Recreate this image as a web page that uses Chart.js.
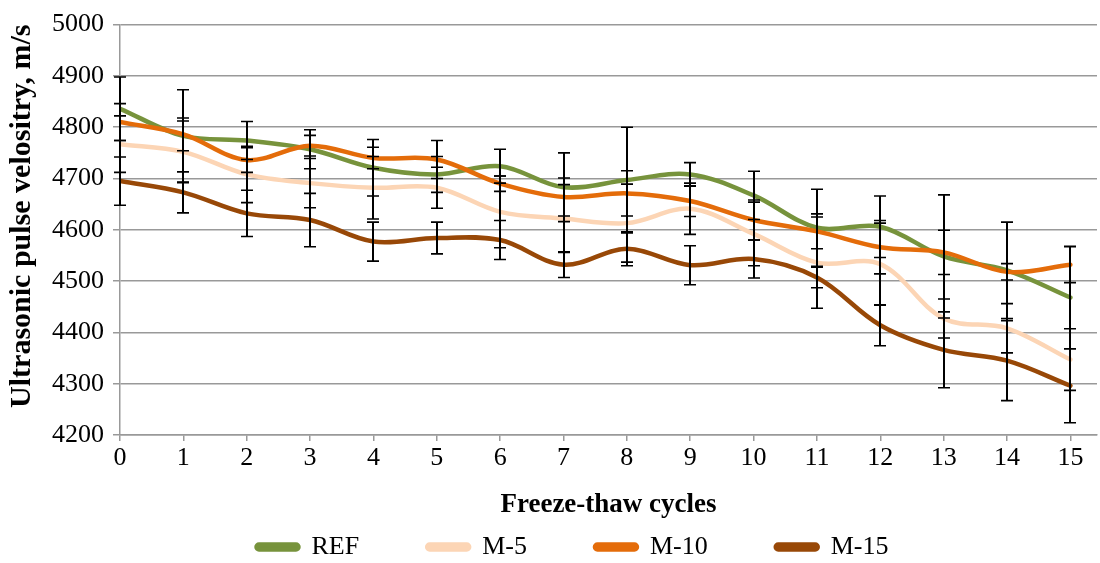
<!DOCTYPE html>
<html>
<head>
<meta charset="utf-8">
<script src="https://cdn.jsdelivr.net/npm/chart.js@4.4.1/dist/chart.umd.min.js"></script>
<style>
html,body{margin:0;padding:0;background:#fff;overflow:hidden;}
#wrap{width:1100px;height:563px;position:relative;}
</style>
</head>
<body>
<div id="wrap"><canvas id="c"></canvas></div>
<script>
const cycles = [0, 1, 2, 3, 4, 5, 6, 7, 8, 9, 10, 11, 12, 13, 14, 15];
const seriesNames = ["REF", "M-5", "M-10", "M-15"];
const refVals  = [4836, 4783, 4774, 4757, 4721, 4708, 4724, 4683, 4697, 4708, 4667, 4604, 4606, 4548, 4521, 4468];
const m5Vals   = [4767, 4752, 4708, 4691, 4682, 4682, 4635, 4622, 4613, 4641, 4592, 4536, 4533, 4427, 4408, 4347];
const m10Vals  = [4810, 4786, 4736, 4764, 4740, 4737, 4690, 4664, 4671, 4656, 4619, 4597, 4566, 4556, 4518, 4532];
const m15Vals  = [4695, 4673, 4632, 4619, 4577, 4584, 4580, 4532, 4563, 4531, 4543, 4507, 4414, 4366, 4345, 4296];
const refErr   = [62, 90, 37, 38, 55, 35, 33, 67, 103, 23, 47, 75, 60, 120, 94, 100];
const m5Err    = [55, 60, 55, 48, 61, 40, 70, 66, 76, 50, 62, 89, 80, 38, 48, 60];
const m10Err   = [36, 32, 24, 20, 21, 37, 15, 37, 44, 30, 39, 34, 52, 43, 16, 35];
const m15Err   = [47, 40, 45, 52, 38, 31, 38, 25, 33, 38, 37, 20, 40, 74, 78, 72];
const yTicks   = [4200, 4300, 4400, 4500, 4600, 4700, 4800, 4900, 5000];

const colors = ["#77933C", "#FCD5B5", "#E46C0A", "#984807"];
const allVals = [refVals, m5Vals, m10Vals, m15Vals];
const allErr = [refErr, m5Err, m10Err, m15Err];
const FONT = "'Liberation Serif', 'Times New Roman', serif";
const FS = 26;

const datasets = seriesNames.map((name, k) => ({
  label: name,
  data: cycles.map((c, i) => ({x: c, y: allVals[k][i]})),
  errors: allErr[k],
  borderColor: colors[k],
  backgroundColor: colors[k],
  borderWidth: 4.5,
  borderCapStyle: 'round',
  pointRadius: 0,
  tension: 0.35,
  fill: false,
  order: 3 - k
}));

const errorBars = {
  id: 'errorBars',
  afterDatasetsDraw(chart) {
    const ctx = chart.ctx;
    const xs = chart.scales.x, ys = chart.scales.y;
    ctx.save();
    ctx.strokeStyle = '#000';
    chart.data.datasets.forEach(ds => {
      ds.data.forEach((p, i) => {
        const e = ds.errors[i];
        const px = Math.round(xs.getPixelForValue(p.x));
        const top = ys.getPixelForValue(p.y + e);
        const bot = ys.getPixelForValue(p.y - e);
        ctx.lineWidth = 2;
        ctx.beginPath();
        ctx.moveTo(px, top); ctx.lineTo(px, bot);
        ctx.stroke();
        ctx.lineWidth = 1.6;
        ctx.beginPath();
        ctx.moveTo(px - 6, top); ctx.lineTo(px + 6, top);
        ctx.moveTo(px - 6, bot); ctx.lineTo(px + 6, bot);
        ctx.stroke();
      });
    });
    ctx.restore();
  }
};

new Chart(document.getElementById('c'), {
  type: 'line',
  data: { datasets },
  plugins: [errorBars],
  options: {
    responsive: true,
    maintainAspectRatio: false,
    animation: false,
    layout: { padding: { top: 18, right: 3, left: 48, bottom: 0 } },
    plugins: {
      tooltip: { enabled: false },
      legend: {
        position: 'bottom',
        maxHeight: 97,
        labels: {
          boxWidth: 42,
          boxHeight: 5,
          padding: 68,
          useBorderRadius: true,
          borderRadius: 2.5,
          color: '#000',
          font: { family: FONT, size: FS },
          sort: (a, b) => a.datasetIndex - b.datasetIndex
        }
      }
    },
    scales: {
      x: {
        type: 'linear',
        min: 0,
        max: 15.42,
        afterFit(s) { s.height = 31; },
        afterBuildTicks(s) { s.ticks = cycles.map(v => ({value: v})); },
        ticks: {
          stepSize: 1,
          color: '#000',
          padding: 2,
          maxRotation: 0,
          font: { family: FONT, size: FS },
          callback: v => String(v)
        },
        grid: { drawOnChartArea: false, drawTicks: true, tickLength: 6, color: '#999', lineWidth: 1.5 },
        border: { color: '#999', width: 1.5 },
        title: {
          display: true,
          text: 'Freeze-thaw cycles',
          color: '#000',
          font: { family: FONT, size: 27, weight: 'bold' },
          padding: { top: 0, bottom: -55 }
        }
      },
      y: {
        min: 4200,
        max: 5000,
        afterFit(s) { s.width = 72; },
        afterBuildTicks(s) { s.ticks = yTicks.map(v => ({value: v})); },
        ticks: {
          color: '#000',
          padding: 9,
          font: { family: FONT, size: FS },
          callback: v => String(v)
        },
        grid: { color: '#999', lineWidth: 1.5, tickLength: 7 },
        border: { color: '#999', width: 1.5 },
        title: {
          display: true,
          align: 'end',
          text: 'Ultrasonic pulse velositry, m/s',
          color: '#000',
          font: { family: FONT, size: 30, weight: 'bold' },
          padding: { top: -44, bottom: 0 }
        }
      }
    }
  }
});
</script>
</body>
</html>
